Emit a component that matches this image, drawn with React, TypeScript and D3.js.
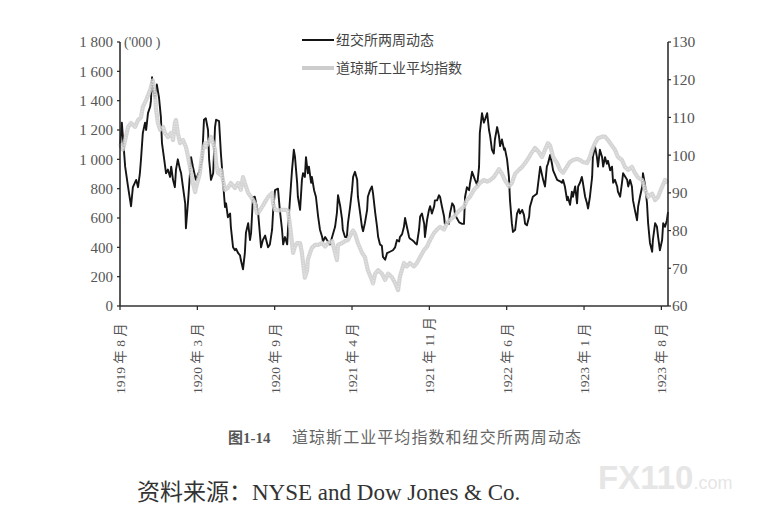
import React from 'react';
import * as d3 from 'd3';

// time = months since Aug 1919 (avg month of 30.44 days), value
const nyse: [number, number][] = [
  [0, 1080], [0.18, 1250], [0.45, 950], [0.71, 810], [0.98, 680], [1.16, 810], [1.43, 860], [1.61, 810],
  [1.78, 905], [1.87, 1000], [2.05, 1180], [2.23, 1250], [2.32, 1200], [2.5, 1315], [2.68, 1360], [2.77, 1400],
  [2.85, 1560], [2.94, 1490], [3.12, 1420], [3.3, 1510], [3.48, 1420], [3.66, 1290], [3.75, 1110], [3.93, 1000],
  [4.1, 905], [4.28, 930], [4.46, 880], [4.55, 950], [4.73, 860], [4.91, 810], [5.0, 930], [5.17, 1000],
  [5.35, 930], [5.44, 905], [5.62, 810], [5.8, 700], [5.89, 530], [6.07, 720], [6.24, 905], [6.33, 1015],
  [6.51, 950], [6.78, 860], [7.14, 930], [7.31, 1000], [7.49, 1270], [7.67, 1280], [7.85, 1200], [7.94, 1000],
  [8.12, 860], [8.3, 905], [8.47, 1220], [8.56, 1270], [8.83, 1260], [9.01, 1040], [9.19, 840], [9.37, 675],
  [9.46, 700], [9.63, 605], [9.81, 630], [9.9, 540], [10.08, 400], [10.26, 380], [10.35, 390], [10.53, 360],
  [10.7, 345], [10.79, 315], [10.97, 250], [11.15, 360], [11.24, 500], [11.42, 565], [11.6, 450], [11.69, 500],
  [11.86, 740], [12.04, 745], [12.31, 635], [12.58, 400], [12.76, 450], [12.93, 480], [13.2, 400], [13.38, 420],
  [13.56, 520], [13.65, 655], [13.83, 790], [14.09, 800], [14.27, 655], [14.45, 520], [14.54, 420], [14.72, 470],
  [14.9, 420], [14.99, 520], [15.17, 745], [15.34, 925], [15.52, 1065], [15.61, 1020], [15.79, 840], [15.88, 745],
  [16.06, 655], [16.24, 860], [16.32, 905], [16.5, 880], [16.59, 1015], [16.77, 905], [16.86, 950], [17.04, 840],
  [17.13, 880], [17.31, 790], [17.48, 745], [17.66, 610], [17.84, 520], [18.02, 470], [18.11, 440], [18.29, 470],
  [18.47, 450], [18.55, 440], [18.73, 420], [18.91, 470], [19.18, 540], [19.36, 635], [19.45, 755], [19.63, 680],
  [19.81, 590], [19.89, 520], [20.07, 470], [20.25, 470], [20.34, 565], [20.52, 680], [20.7, 790], [20.79, 880],
  [20.96, 915], [21.14, 860], [21.23, 745], [21.41, 635], [21.59, 540], [21.68, 510], [21.86, 565], [22.03, 655],
  [22.12, 745], [22.3, 790], [22.48, 815], [22.57, 770], [22.75, 635], [22.93, 540], [23.02, 470], [23.19, 420],
  [23.37, 410], [23.46, 335], [23.64, 315], [23.82, 360], [24.09, 370], [24.35, 380], [24.53, 400], [24.71, 450],
  [24.89, 440], [24.98, 470], [25.16, 490], [25.33, 540], [25.42, 600], [25.6, 540], [25.78, 470], [25.87, 460],
  [26.05, 450], [26.23, 440], [26.32, 430], [26.49, 420], [26.67, 520], [26.76, 610], [26.94, 630], [27.12, 560],
  [27.21, 470], [27.39, 590], [27.56, 655], [27.65, 680], [27.83, 630], [28.01, 680], [28.1, 720], [28.28, 720],
  [28.46, 755], [28.55, 745], [28.72, 680], [28.9, 610], [28.99, 560], [29.17, 570], [29.35, 560], [29.44, 630],
  [29.62, 700], [29.79, 680], [29.88, 620], [30.24, 570], [30.51, 560], [30.69, 560], [30.78, 745], [30.95, 810],
  [31.13, 790], [31.22, 830], [31.4, 915], [31.58, 880], [31.67, 860], [31.85, 825], [32.03, 950], [32.11, 1180],
  [32.29, 1315], [32.47, 1250], [32.56, 1270], [32.74, 1315], [32.92, 1200], [33.01, 1160], [33.18, 1065], [33.36, 1040],
  [33.45, 1135], [33.63, 1220], [33.81, 1160], [33.9, 1090], [34.08, 1135], [34.26, 1065], [34.34, 1075], [34.52, 1000],
  [34.7, 880], [34.79, 720], [34.97, 565], [35.06, 505], [35.24, 520], [35.41, 630], [35.59, 660], [35.68, 630],
  [35.86, 655], [36.04, 620], [36.13, 560], [36.31, 550], [36.49, 610], [36.57, 675], [36.84, 745], [37.2, 765],
  [37.47, 950], [37.73, 860], [37.91, 815], [38.09, 950], [38.18, 970], [38.36, 1030], [38.54, 970], [38.63, 925],
  [38.98, 860], [39.25, 850], [39.43, 840], [39.52, 860], [39.7, 815], [39.88, 720], [39.96, 745], [40.14, 690],
  [40.32, 780], [40.41, 745], [40.59, 815], [40.77, 700], [40.86, 815], [41.03, 840], [41.21, 880], [41.3, 840],
  [41.48, 745], [41.66, 700], [41.75, 665], [41.93, 745], [42.11, 880], [42.19, 1015], [42.37, 1085], [42.55, 1015],
  [42.64, 950], [42.82, 1065], [43.0, 1015], [43.09, 950], [43.27, 1015], [43.44, 970], [43.53, 990], [43.71, 925],
  [43.89, 950], [43.98, 840], [44.16, 860], [44.34, 815], [44.42, 780], [44.6, 745], [44.78, 840], [44.87, 905],
  [45.23, 860], [45.32, 815], [45.5, 860], [45.67, 815], [45.76, 720], [45.94, 655], [46.12, 585], [46.21, 680],
  [46.39, 745], [46.57, 815], [46.65, 905], [46.83, 820], [47.01, 700], [47.1, 565], [47.28, 430], [47.46, 370],
  [47.55, 450], [47.73, 565], [47.9, 540], [47.99, 475], [48.17, 380], [48.35, 450], [48.44, 565], [48.62, 540],
  [48.8, 585], [48.89, 640],
];

const dow: [number, number][] = [
  [0, 103], [0.27, 101.5], [0.45, 104], [0.71, 107.5], [0.98, 108.5], [1.34, 107.5], [1.61, 109.3], [1.87, 110],
  [2.05, 112.8], [2.32, 114.6], [2.68, 117.3], [2.94, 119.8], [3.12, 116.5], [3.21, 112], [3.39, 108.5], [3.57, 106.7],
  [3.84, 107.5], [4.01, 105.9], [4.28, 104.8], [4.55, 105.9], [4.73, 104], [4.91, 108.5], [5.0, 109.3], [5.17, 105.9],
  [5.35, 103.2], [5.62, 104], [5.89, 102.2], [6.07, 99.5], [6.24, 96.9], [6.33, 95.3], [6.51, 92.6], [6.69, 90.2],
  [6.78, 91.3], [6.96, 93.4], [7.14, 95.3], [7.23, 97.9], [7.4, 101.4], [7.58, 103.2], [7.67, 102.2], [8.03, 104],
  [8.12, 104.8], [8.3, 103.2], [8.47, 101.4], [8.56, 97.9], [8.74, 95.3], [8.92, 94.8], [9.01, 96.1], [9.37, 90.8],
  [9.63, 91.3], [9.9, 92.6], [10.26, 91.3], [10.53, 92.6], [10.79, 90.8], [10.97, 94.2], [11.15, 92.6], [11.42, 90],
  [11.69, 88.9], [12.04, 87.3], [12.22, 84.6], [12.31, 84.6], [12.67, 86.3], [12.93, 87.6], [13.2, 88.9], [13.56, 90],
  [13.65, 87.1], [13.83, 85.5], [14.09, 85.3], [14.45, 85.5], [14.72, 85.5], [14.99, 85.3], [15.17, 81], [15.34, 76.7],
  [15.43, 74.1], [15.61, 75.8], [15.79, 76.7], [16.06, 76.7], [16.24, 74.1], [16.32, 71.4], [16.5, 67.5], [16.68, 69.4],
  [16.77, 72.2], [16.95, 74.1], [17.13, 75.4], [17.4, 76.2], [17.66, 76.2], [18.02, 76.7], [18.29, 75.8], [18.55, 76.7],
  [18.91, 77.2], [19.18, 74.1], [19.36, 72.2], [19.45, 76.2], [19.81, 76.7], [20.07, 77.2], [20.34, 77.5], [20.7, 79.6],
  [20.79, 80], [20.96, 79.2], [21.23, 76.7], [21.59, 74.1], [21.86, 73], [22.12, 69.5], [22.48, 66.9], [22.57, 66],
  [22.75, 68.6], [23.02, 69.5], [23.37, 68.6], [23.64, 66.9], [23.91, 68.6], [24.26, 67.7], [24.53, 66.1], [24.8, 64.2],
  [24.98, 67.7], [25.33, 71.4], [25.6, 70.5], [25.87, 71.4], [26.23, 70.5], [26.49, 71.4], [26.76, 73], [27.12, 74.9],
  [27.39, 75.8], [27.65, 77.5], [28.01, 79.4], [28.28, 80.3], [28.55, 81], [28.9, 80.3], [29.17, 82], [29.44, 82.8],
  [29.79, 83.7], [30.06, 84.6], [30.33, 85.5], [30.69, 86.3], [30.95, 88.1], [31.22, 88.9], [31.58, 90.8], [31.85, 91.7],
  [32.11, 92.6], [32.47, 93.4], [32.74, 93], [33.01, 93.4], [33.36, 94.2], [33.63, 95.5], [33.81, 96.3], [34.08, 95.1],
  [34.34, 93.4], [34.7, 91.7], [34.97, 92.6], [35.24, 95.1], [35.59, 96.1], [35.86, 96.9], [36.13, 97.9], [36.49, 99.5],
  [36.66, 100.4], [37.02, 101.9], [37.29, 101.1], [37.64, 99.5], [37.91, 101.4], [38.18, 103.2], [38.36, 102.5], [38.63, 99.5],
  [38.98, 97.9], [39.25, 96.1], [39.52, 95.3], [39.88, 97], [40.14, 98.2], [40.41, 98.7], [40.77, 99], [41.03, 98.7],
  [41.3, 98.2], [41.66, 97.9], [41.93, 99.5], [42.11, 101.4], [42.37, 103.2], [42.64, 104.5], [43.0, 104.9], [43.27, 104.9],
  [43.53, 104], [43.89, 102.5], [44.16, 101.4], [44.42, 99.5], [44.78, 98.7], [45.05, 96.9], [45.32, 96.1], [45.67, 96.9],
  [45.94, 95.3], [46.21, 94], [46.57, 93.4], [46.83, 90.8], [47.1, 88.9], [47.46, 89.8], [47.73, 88.1], [47.99, 88.9],
  [48.35, 91.6], [48.62, 93.4], [48.89, 92.6],
];

const leftTicks = [0, 200, 400, 600, 800, 1000, 1200, 1400, 1600, 1800];
const rightTicks = [60, 70, 80, 90, 100, 110, 120, 130];
const xTickLabels = ['1919 年 8 月', '1920 年 3 月', '1920 年 9 月', '1921 年 4 月', '1921 年 11 月', '1922 年 6 月', '1923 年 1 月', '1923 年 8 月'];
const legendLabels = ['纽交所两周动态', '道琼斯工业平均指数'];
const tickStepDays = 210; // 15 two-week periods

const serif = "'Liberation Serif', 'DejaVu Serif', 'Noto Sans CJK SC', serif";

const App: React.FC = () => {
  const width = 780;
  const height = 531;
  const m = { left: 120, right: 668, top: 42, bottom: 306 };
  const start = new Date(1919, 7, 1);
  const toDate = (mo: number) => d3.timeDay.offset(start, Math.round(mo * 30.44));

  const x = d3.scaleTime().domain([start, toDate(48.89)]).range([m.left, m.right]);
  const yL = d3.scaleLinear().domain([0, 1800]).range([m.bottom, m.top]);
  const yR = d3.scaleLinear().domain([60, 130]).range([m.bottom, m.top]);

  const nyseLine = d3.line<[number, number]>()
    .x((d) => x(toDate(d[0])))
    .y((d) => yL(d[1]));
  const dowLine = d3.line<[number, number]>()
    .x((d) => x(toDate(d[0])))
    .y((d) => yR(d[1]));

  const xTicks = xTickLabels.map((label, i) => ({ label, pos: x(d3.timeDay.offset(start, i * tickStepDays)) }));
  const fmt = (v: number) => d3.format(',')(v).replace(',', ' ');

  return (
    <svg width={width} height={height} style={{ position: 'absolute', left: 0, top: 0, background: '#fff' }}
      fontFamily={serif}>
      <rect width={width} height={height} fill="#fff" />

      {/* series */}
      <path d={nyseLine(nyse) ?? ''} fill="none" stroke="#151515" strokeWidth={1.9} strokeLinejoin="round" />
      <path d={dowLine(dow) ?? ''} fill="none" stroke="#cdcdcd" strokeWidth={4.2} strokeLinejoin="round" opacity={0.85} />
      <path d={dowLine(dow) ?? ''} fill="none" stroke="#e4e4e4" strokeWidth={1.6} strokeDasharray="1 1.6" />

      {/* left axis */}
      <line x1={m.left} x2={m.left} y1={m.top} y2={m.bottom} stroke="#222" strokeWidth={1.5} />
      {leftTicks.map((t) => (
        <g key={t} transform={`translate(${m.left},${yL(t)})`}>
          <line x1={-3} x2={0} stroke="#222" strokeWidth={1.2} />
          <text x={-7} dy="0.35em" textAnchor="end" fontSize={15} fill="#555">{fmt(t)}</text>
        </g>
      ))}
      <text x={124} y={47} fontSize={14} fill="#555">('000 )</text>

      {/* right axis */}
      <line x1={m.right} x2={m.right} y1={m.top} y2={m.bottom} stroke="#222" strokeWidth={1.5} />
      {rightTicks.map((t) => (
        <g key={t} transform={`translate(${m.right},${yR(t)})`}>
          <line x1={0} x2={3} stroke="#222" strokeWidth={1.2} />
          <text x={4} dy="0.35em" textAnchor="start" fontSize={15.5} fill="#555">{t}</text>
        </g>
      ))}

      {/* bottom axis */}
      <line x1={m.left} x2={m.right} y1={m.bottom} y2={m.bottom} stroke="#333" strokeWidth={1.5} />
      {xTicks.map((t) => (
        <g key={t.label}>
          <line x1={t.pos} x2={t.pos} y1={m.bottom} y2={m.bottom + 4} stroke="#222" strokeWidth={1.2} />
          <text transform={`translate(${t.pos + 5},394) rotate(-90)`} textAnchor="start" fontSize={13.5} fill="#555">
            {t.label}
          </text>
        </g>
      ))}

      {/* legend */}
      <line x1={302} x2={334} y1={40} y2={40} stroke="#151515" strokeWidth={2} />
      <text x={336} y={45} fontSize={14} fill="#444">{legendLabels[0]}</text>
      <line x1={302} x2={334} y1={68} y2={68} stroke="#cdcdcd" strokeWidth={4} />
      <text x={336} y={73} fontSize={14} fill="#444">{legendLabels[1]}</text>

      {/* caption */}
      <text x={228} y={443} fontSize={15} fontWeight="bold" fill="#555">图1-14</text>
      <text x={292} y={443} fontSize={16} fill="#666" textLength={289} lengthAdjust="spacing">
        道琼斯工业平均指数和纽交所两周动态
      </text>
      <text x={137} y={500} fontSize={23} fill="#333">
        资料来源：NYSE and Dow Jones &amp; Co.
      </text>

      {/* watermark */}
      <text x={598} y={489} fontSize={33} fontWeight="bold" fill="#e6e6e6" fontFamily="'Liberation Sans', Arial, sans-serif">
        FX110<tspan fontSize={18} fontWeight="normal">.com</tspan>
      </text>
    </svg>
  );
};

export default App;
